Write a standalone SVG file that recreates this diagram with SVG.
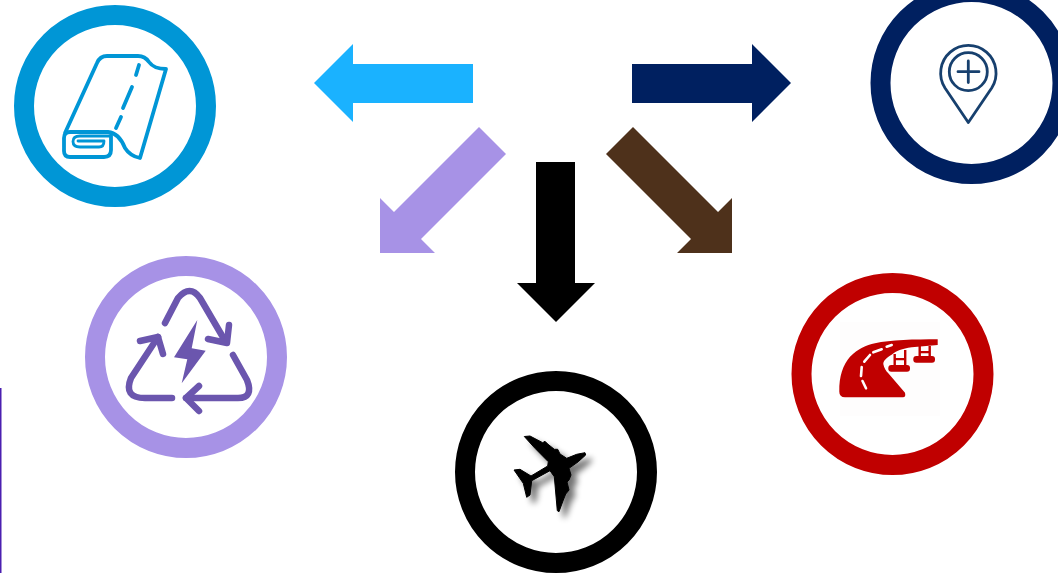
<svg xmlns="http://www.w3.org/2000/svg" width="1058" height="573" viewBox="0 0 1058 573">
<defs>
<style>
.ring{fill:#fff;stroke-width:20}
.ico{fill:none;stroke-linecap:round;stroke-linejoin:round}
</style>
<filter id="sh" x="-30%" y="-30%" width="170%" height="170%"><feGaussianBlur in="SourceAlpha" stdDeviation="3"/><feOffset dx="6" dy="6"/><feComponentTransfer><feFuncA type="linear" slope="0.55"/></feComponentTransfer><feMerge><feMergeNode/><feMergeNode in="SourceGraphic"/></feMerge></filter>
</defs>
<rect width="1058" height="573" fill="#fff"/>
<rect x="0" y="388" width="1.5" height="185" fill="#4b1fb0"/>
<g id="connectors">
<polygon fill="#1ab2ff" points="473,64 353,64 353,44 314,83 353,122 353,103 473,103"/>
<polygon fill="#002060" points="632,64 752,64 752,44 791,83 752,122 752,103 632,103"/>
<polygon fill="#a792e6" points="479,127 506,154 421,239 435,253 380,253 380,198 394,212"/>
<polygon fill="#4e311b" points="633,127 606,154 691,239 677,253 732,253 732,198 718,212"/>
<polygon fill="#000" points="536,162 575,162 575,283 595,283 556,322 517,283 536,283"/>
</g>
<g id="node-fabric">
<circle class="ring" cx="115" cy="106" r="91" stroke="#0096d6"/>
<g class="ico" stroke="#0096d6" stroke-width="3.8">
<path d="M65 133L97 63Q100 56 107 56H138Q145 56 149 62Q154 69 166 69L140 158Q130 156 125 148Q119 133 108 132H70Q64 132 64 138V151Q64 157 70 157H104Q111 157 111 150V136"/>
<path d="M139 65L136 75M132 87L123 108M121 117L116 128"/>
</g>
<path class="ico" stroke="#0096d6" stroke-width="2.8" d="M110 136H80Q73 136 73 141.500Q73 147 80 147H99Q104 147 104 141H78"/>
</g>
<g id="node-energy">
<circle class="ring" cx="186" cy="357" r="91" stroke="#a792e6"/>
<g class="ico" stroke="#6b56ae" stroke-width="6.5">
<path d="M165 323L178 298Q190 284 200 298L224 339"/>
<path d="M229 325L227 343L208 339"/>
<path d="M233 355L247 380Q254 398 238 398H186"/>
<path d="M199 386L186 398L199 411"/>
<path d="M172 398H145Q123 398 131 378L158 337"/>
<path d="M140 341L158 337L163 354"/>
</g>
<polygon fill="#6b56ae" points="197.3,320 174,357.3 187.3,359.3 181.7,383.3 205.7,350.7 191.7,348.3"/>
</g>
<g id="node-plane">
<circle class="ring" cx="556" cy="472" r="91" stroke="#000"/>
<g filter="url(#sh)">
<path fill="#000" stroke="#000" stroke-width="1" stroke-linejoin="round" d="M524.3 436.500L530 436L542.700 442.700L545 441.300L547.700 444L554.300 449.300L557.700 449.300L560 454L566.700 458.300L576.700 454.300L585 452.700L585.700 455L578.300 461.700L569 468.300L571 475L569 480L567 482L569 490L565.700 494L563.300 500L559 511.700L557.300 510.700L554.300 476.700L550 470.700L531.700 480.700L530 495L526.700 497.300L523.300 483.300L521 480L514 470L520 469.300L531 476L547.700 466L548.300 461.700L535 448.300Z"/>
</g>
</g>
<g id="node-road">
<circle class="ring" cx="892.500" cy="374" r="91" stroke="#c00000"/>
<rect x="840" y="322" width="100" height="94" fill="#fefdfd"/>
<path fill="#c00000" d="M937.700 339.300V345L911.700 347.300C902 348.500 896 351 892 354.500C886 358 883.300 361 883.300 364C884 368 886 371 888.300 373.300L905 392.700Q906 397.300 903 397.300H845Q839.300 397 839.300 391.700C839 376 843 365 850 356.700C858 349 866 345 875 343.300C890 339.800 915 339.300 937.700 339.300Z"/>
<g fill="#c00000">
<rect x="888.300" y="365" width="21.700" height="6.700" rx="3"/>
<rect x="913.300" y="356" width="21.700" height="6.700" rx="3"/>
<path d="M893.500 354h2.400v12h-2.400zM904 350h2.400v16h-2.400zM893.500 358h12v2.200h-12zM918.500 346h2.400v11h-2.400zM928.500 346h2.400v11h-2.400zM918.500 351h12v2.200h-12z"/>
</g>
<path fill="none" stroke="#fff" stroke-width="2.600" stroke-linecap="round" d="M891.700 345L886.700 346.700M881.700 349.300L873.300 352.300M870 355L864.300 361.700M861.700 367L861 376M862.500 381L866 388.300"/>
</g>
<g id="node-pin">
<circle class="ring" cx="971.500" cy="83" r="91" stroke="#002060"/>
<g class="ico" stroke="#17406e" stroke-width="2.800">
<path d="M968.300 122.500L945 88A27.700 27.700 0 1 1 991.700 88Z"/>
<circle cx="968.300" cy="71.700" r="19"/>
<path d="M958 71.700H979M968.300 61V82.500"/>
</g>
</g>
</svg>
